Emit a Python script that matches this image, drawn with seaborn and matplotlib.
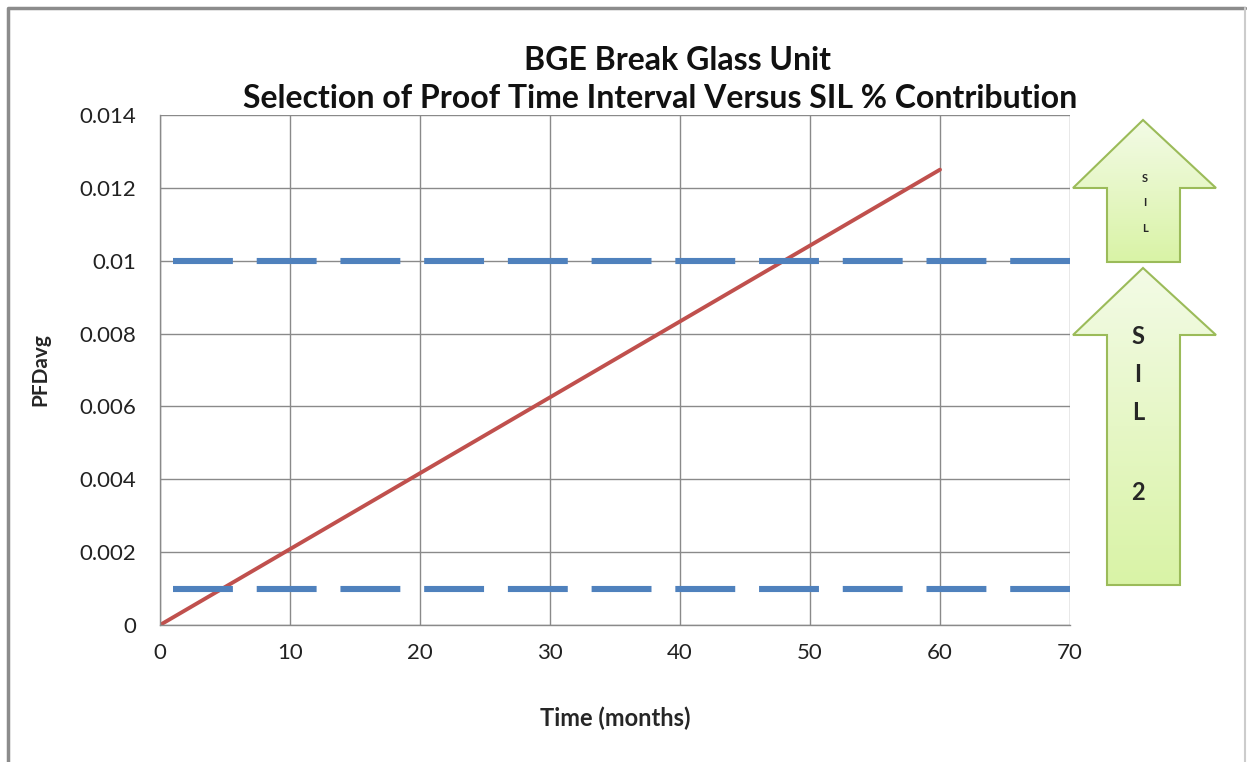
import numpy as np
import pandas as pd
import seaborn as sns
import matplotlib.pyplot as plt
from matplotlib.patches import Polygon
from matplotlib.colors import LinearSegmentedColormap

# ---------------------------------------------------------
# DATA
# ---------------------------------------------------------
months = [0, 12, 24, 36, 48, 60]
pfd_avg = [0.0, 0.0025, 0.005, 0.0075, 0.01, 0.0125]

band_x = [1, 70]
sil2_upper = [0.01, 0.01]
sil2_lower = [0.001, 0.001]

x_ticks = [0, 10, 20, 30, 40, 50, 60, 70]
y_ticks = [0, 0.002, 0.004, 0.006, 0.008, 0.01, 0.012, 0.014]
y_tick_labels = ["0", "0.002", "0.004", "0.006", "0.008", "0.01", "0.012", "0.014"]

title_lines = ["BGE Break Glass Unit",
               "Selection of Proof Time Interval Versus SIL % Contribution"]

# ---------------------------------------------------------
# STYLE
# ---------------------------------------------------------
sns.set_style("white")
plt.rcParams['font.family'] = ['Lato', 'DejaVu Sans']

W, H = 1247, 762
fig = plt.figure(figsize=(W / 100, H / 100), dpi=100)
ax = fig.add_axes([160 / W, 1 - 625 / H, 910 / W, 510 / H])

red = '#C0504D'
blue = '#4F81BD'
grid_col = '#8a8a8a'

line_df = pd.DataFrame({'months': months, 'pfd': pfd_avg})
sns.lineplot(data=line_df, x='months', y='pfd', ax=ax, color=red, linewidth=2.8)

band_df = pd.DataFrame({'x': band_x, 'upper': sil2_upper, 'lower': sil2_lower})
for col in ['upper', 'lower']:
    sns.lineplot(data=band_df, x='x', y=col, ax=ax, color=blue, linewidth=4.4,
                 linestyle=(0, (9.8, 3.9)))
for ln in ax.lines:
    ln.set_dash_capstyle('butt')

ax.set_xlim(0, 70)
ax.set_ylim(0, 0.014)
ax.set_xticks(x_ticks)
ax.set_yticks(y_ticks)
ax.set_yticklabels(y_tick_labels)
ax.grid(True, color=grid_col, linewidth=1)
ax.set_axisbelow(True)
for s in ['top', 'right']:
    ax.spines[s].set_visible(False)
for s in ['left', 'bottom']:
    ax.spines[s].set_color(grid_col)
    ax.spines[s].set_linewidth(1)
ax.tick_params(axis='both', which='both', direction='out', length=7, width=1,
               color=grid_col, labelsize=16, labelcolor='#222222')
ax.tick_params(axis='y', pad=10)
ax.tick_params(axis='x', pad=6)
ax.set_xlabel("Time (months)", fontsize=17, fontweight='bold')
ax.set_ylabel("PFDavg", fontsize=15, fontweight='bold')
ax.xaxis.set_label_coords(0.5, -0.16)
ax.yaxis.set_label_coords(-0.121, 0.5)

fig.text(677 / W, 1 - 60 / H, title_lines[0], ha='center', va='center',
         fontsize=23, fontweight='bold', color='#111111')
fig.text(660 / W, 1 - 98 / H, title_lines[1], ha='center', va='center',
         fontsize=23, fontweight='bold', color='#111111')

# ---------------------------------------------------------
# SIL BLOCK ARROWS (pixel overlay)
# ---------------------------------------------------------
ov = fig.add_axes([0, 0, 1, 1], zorder=5)
ov.axis('off')
ov.patch.set_alpha(0)

grad = np.linspace(0, 1, 256).reshape(-1, 1)
green_cmap = LinearSegmentedColormap.from_list('g', ['#F3FBE6', '#D9F3A6'])


def block_arrow(tip_y, head_y, bottom_y):
    pts = [(1143, tip_y), (1216, head_y), (1180, head_y), (1180, bottom_y),
           (1107, bottom_y), (1107, head_y), (1073, head_y)]
    poly = Polygon(pts, closed=True, facecolor='none', edgecolor='#9BBB59',
                   linewidth=1.5, zorder=3)
    ov.add_patch(poly)
    im = ov.imshow(grad, cmap=green_cmap, aspect='auto',
                   extent=[1073, 1216, bottom_y, tip_y], zorder=2)
    im.set_clip_path(poly)


block_arrow(120, 188, 262)
block_arrow(268, 335, 585)
ov.set_xlim(0, W)
ov.set_ylim(H, 0)

for t, y in zip(["S", "I", "L"], [178, 203, 228]):
    ov.text(1145, y, t, ha='center', va='center', fontsize=8,
            fontweight='bold', zorder=4)
for t, y in zip(["S", "I", "L", "2"], [337, 375, 412, 492]):
    ov.text(1138, y, t, ha='center', va='center', fontsize=17,
            fontweight='bold', zorder=4)

# outer frame
ov.plot([8, 8, 1245], [H, 8, 8], color='#8c8c8c', linewidth=2.5, zorder=6)
ov.plot([1245, 1245], [8, H], color='#cccccc', linewidth=1.5, zorder=6)

fig.savefig('out.png', dpi=100)
